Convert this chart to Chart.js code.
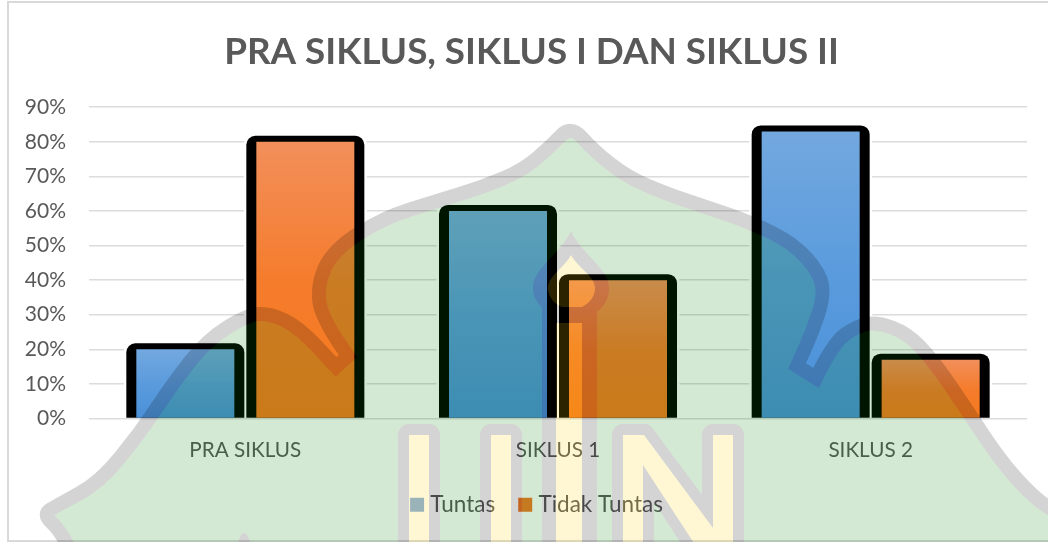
<!DOCTYPE html>
<html>
<head>
<meta charset="utf-8">
<style>html,body{margin:0;padding:0;background:#fff}canvas{display:block}</style>
<script src="https://cdn.jsdelivr.net/npm/chart.js@4"></script>
</head>
<body>
<div style="width:1048px;height:542px"><canvas id="c" width="1048" height="542"></canvas></div>
<script>
const categories = ['PRA SIKLUS', 'SIKLUS 1', 'SIKLUS 2'];
const tuntas = [20, 60, 83];
const tidakTuntas = [80, 40, 17];
const seriesNames = ['Tuntas', 'Tidak Tuntas'];
const legendColors = ['#85aee0', '#ee7a2a'];
const titleText = 'PRA SIKLUS, SIKLUS I DAN SIKLUS II';
const FONT = 'Lato, Carlito, Calibri, sans-serif';
const TEXT = '#595959';

function barGradient(stops) {
  return function (ctx) {
    if (ctx.type !== 'data' || !ctx.chart.scales.y) return stops[1];
    const s = ctx.chart.scales.y;
    const g = ctx.chart.ctx.createLinearGradient(0, s.getPixelForValue(ctx.raw), 0, s.getPixelForValue(0));
    g.addColorStop(0, stops[0]);
    g.addColorStop(0.5, stops[1]);
    g.addColorStop(1, stops[2]);
    return g;
  };
}

/* frame of the chart object */
const framePlugin = {
  id: 'frame',
  beforeDraw(chart) {
    const c = chart.ctx;
    c.save();
    c.strokeStyle = '#d9d9d9';
    c.lineWidth = 2;
    c.strokeRect(8, 2, 1100, 539);
    c.restore();
  },
  afterLayout(chart) {
    chart.legend.left += 36;
    chart.titleBlock.left += 21;
  }
};

/* heavy black rounded outline, placed from each bar element */
const outlinePlugin = {
  id: 'outline',
  beforeDatasetsDraw(chart) {
    const c = chart.ctx;
    const shapes = [];
    chart.data.datasets.forEach((d, i) => {
      chart.getDatasetMeta(i).data.forEach(el => shapes.push(el));
    });
    c.save();
    c.fillStyle = '#fff';
    shapes.forEach(el => {
      c.beginPath();
      c.roundRect(el.x - el.width / 2 - 12.5, el.y - 8.5, el.width + 25, el.base - el.y + 8.5, [10, 10, 0, 0]);
      c.fill();
    });
    c.fillStyle = '#000';
    shapes.forEach(el => {
      c.beginPath();
      c.roundRect(el.x - el.width / 2 - 10, el.y - 6, el.width + 20, el.base - el.y + 6, [9, 9, 0, 0]);
      c.fill();
    });
    c.restore();
  }
};

/* translucent logo stamped over the whole picture */
function curve(c, pts, first) {
  if (first) c.moveTo(pts[0][0], pts[0][1]); else c.lineTo(pts[0][0], pts[0][1]);
  for (let i = 1; i < pts.length - 1; i++) {
    const mx = (pts[i][0] + pts[i + 1][0]) / 2, my = (pts[i][1] + pts[i + 1][1]) / 2;
    c.quadraticCurveTo(pts[i][0], pts[i][1], mx, my);
  }
  const l = pts[pts.length - 1];
  c.lineTo(l[0], l[1]);
}
const logoPlugin = {
  id: 'logo',
  afterDraw(chart) {
    const off = document.createElement('canvas');
    off.width = 1048; off.height = 542;
    const c = off.getContext('2d');
    const GREY = '#000', GREEN = 'rgb(0,125,0)', YEL = 'rgb(255,208,0)';
    c.lineJoin = 'miter';
    c.beginPath();
    curve(c, [[75, 560], [62, 532], [42, 514], [60, 504], [100, 482], [140, 433], [173, 383], [207, 340], [247, 315], [270, 313], [300, 328], [336, 367]], true);
    curve(c, [[348, 356], [322, 320], [317, 285], [333, 250], [383, 218], [437, 201], [483, 187], [523, 170], [550, 147], [571, 125], [593, 150], [627, 177], [667, 194], [700, 205], [750, 222], [793, 243], [820, 273], [824, 297], [812, 333], [797, 366]], false);
    curve(c, [[816, 378], [833, 343], [857, 326], [877, 322], [907, 333], [933, 360], [967, 410], [1000, 460], [1033, 497], [1060, 515]], false);
    c.lineTo(1060, 580);
    c.lineTo(75, 580);
    c.closePath();
    c.fillStyle = GREEN;
    c.fill();
    c.strokeStyle = GREY;
    c.lineWidth = 14;
    c.stroke();

    /* letters */
    c.lineJoin = 'round';
    const letters = [
      [[409, 435], [429, 435], [429, 560], [409, 560]],
      [[491, 435], [511, 435], [511, 560], [491, 560]],
      [[623, 435], [644, 435], [713, 528], [713, 435], [733, 435], [733, 560], [705, 560], [643, 465], [643, 560], [623, 560]]
    ];
    letters.forEach(p => {
      c.beginPath();
      p.forEach((q, i) => i ? c.lineTo(q[0], q[1]) : c.moveTo(q[0], q[1]));
      c.closePath();
      c.strokeStyle = GREY; c.lineWidth = 22; c.stroke();
      c.fillStyle = YEL; c.fill();
    });

    /* minaret */
    c.fillStyle = GREY;
    c.fillRect(542, 305, 55, 250);
    c.beginPath();
    c.moveTo(571, 231);
    c.bezierCurveTo(560, 255, 533, 268, 533, 288);
    c.bezierCurveTo(533, 304, 548, 314, 560, 316);
    c.lineTo(585, 316);
    c.bezierCurveTo(598, 314, 609, 304, 609, 288);
    c.bezierCurveTo(609, 268, 582, 255, 571, 231);
    c.fill();
    c.fillStyle = YEL;
    c.fillRect(556, 323, 26, 230);
    c.beginPath();
    c.moveTo(571, 255);
    c.bezierCurveTo(564, 268, 548, 276, 548, 288);
    c.bezierCurveTo(548, 298, 556, 305, 562, 307);
    c.lineTo(582, 307);
    c.bezierCurveTo(590, 303, 595, 296, 595, 288);
    c.bezierCurveTo(595, 276, 578, 268, 571, 255);
    c.fill();

    /* small tip at the lower edge */
    c.strokeStyle = GREY; c.lineWidth = 6;
    c.beginPath(); c.moveTo(240, 545); c.lineTo(244, 536); c.lineTo(249, 545); c.stroke();

    const m = chart.ctx;
    m.save();
    m.globalAlpha = 0.17;
    m.drawImage(off, 0, 0);
    m.restore();
  }
};

new Chart(document.getElementById('c'), {
  type: 'bar',
  data: {
    labels: categories,
    datasets: [
      { label: seriesNames[0], data: tuntas, borderWidth: 0,
        backgroundColor: barGradient(['#73a8df', '#5a9bdd', '#4a90d8']) },
      { label: seriesNames[1], data: tidakTuntas, borderWidth: 0,
        backgroundColor: barGradient(['#f28f5b', '#f57c2c', '#f57a1e']) }
    ]
  },
  plugins: [framePlugin, outlinePlugin, logoPlugin],
  options: {
    responsive: false,
    animation: false,
    events: [],
    devicePixelRatio: 1,
    layout: { padding: { left: 15, right: 21, top: 0, bottom: 16 } },
    datasets: { bar: { categoryPercentage: 0.7676, barPercentage: 0.8167 } },
    plugins: {
      tooltip: { enabled: false },
      title: {
        display: true,
        text: titleText,
        color: TEXT,
        font: { family: FONT, size: 36.8, weight: 'bold' },
        padding: { top: 30, bottom: 33 }
      },
      legend: {
        position: 'bottom',
        labels: {
          color: TEXT,
          font: { family: FONT, size: 22.5 },
          usePointStyle: true,
          boxWidth: 4,
          boxHeight: 14,
          padding: 28,
          generateLabels() {
            return seriesNames.map((t, i) => ({
              text: t, fillStyle: legendColors[i], strokeStyle: legendColors[i],
              lineWidth: 0, pointStyle: 'rect', datasetIndex: i, fontColor: TEXT
            }));
          }
        }
      }
    },
    scales: {
      x: {
        grid: { display: false },
        border: { display: false },
        ticks: { color: TEXT, font: { family: FONT, size: 20.7 }, padding: 11 },
        afterFit(s) { s.height = 47; }
      },
      y: {
        min: 0, max: 90,
        grid: { color: '#dcdcdc', lineWidth: 1.6, drawTicks: false },
        border: { display: false },
        ticks: {
          stepSize: 10,
          color: TEXT,
          padding: 23,
          font: { family: FONT, size: 21 },
          callback: v => v + '%'
        },
        afterFit(s) { s.width = 74; }
      }
    }
  }
});
</script>
</body>
</html>
